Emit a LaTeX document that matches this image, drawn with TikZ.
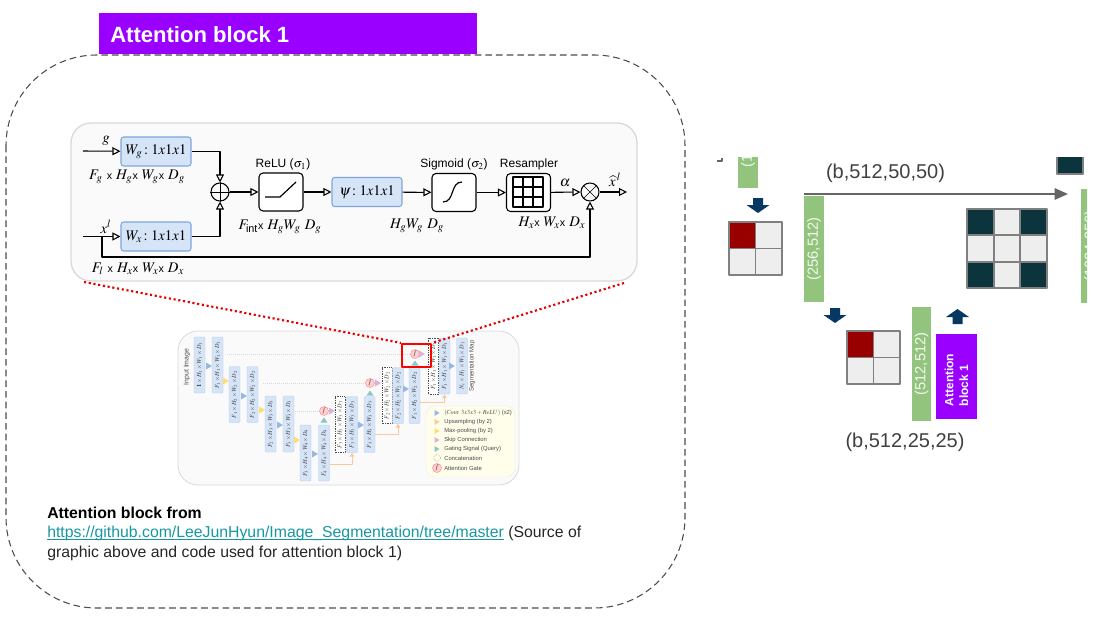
\documentclass[tikz,border=0pt]{standalone}
\usepackage{amsmath}
\usepackage{graphicx}
\usepackage{mathptmx}
\usepackage{fontspec}
\setmainfont{Liberation Sans}
\usetikzlibrary{arrows.meta}
\definecolor{attnpurple}{HTML}{9900FF}
\definecolor{blockblue}{HTML}{D6E4F7}
\definecolor{blockedge}{HTML}{7FA6DC}
\definecolor{convgreen}{HTML}{93C47D}
\definecolor{pooldark}{HTML}{0C343D}
\definecolor{poolred}{HTML}{980000}
\definecolor{cellgray}{HTML}{EEEEEE}
\definecolor{arrownavy}{HTML}{073763}
\definecolor{linkteal}{HTML}{1796A3}
\definecolor{upsorange}{HTML}{F9CB9C}
\def\px{0.75pt}
\newcommand{\fsz}[1]{\fontsize{#1}{#1}\selectfont}
\newcommand{\tinym}[1]{\scalebox{.47}{\fsz{10}$#1$}}
\newcommand{\tx}{{\fsz{8}x}}
\tikzset{
	wbox/.style={draw=blockedge,fill=blockblue,rounded corners=2pt,line width=.8pt,inner sep=0pt,minimum height=29*\px,minimum width=70*\px,font=\fsz{11}},
	actbox/.style={draw=black,fill=white,rounded corners=3pt,line width=.8pt,inner sep=0pt,minimum height=38*\px,minimum width=44*\px},
	opnode/.style={draw=black,circle,line width=.8pt,minimum size=18*\px,inner sep=0pt},
	lab/.style={font=\fsz{9},inner sep=0pt},
	mathlab/.style={font=\fsz{11},inner sep=0pt},
	thumb/.style={draw=blockedge!60,fill=blockblue,rounded corners=.8pt,line width=.3pt,rotate=90,minimum width=56*\px,minimum height=11*\px,inner sep=0pt,font=\fsz{10},text=black!75},
	thumbdash/.style={draw=black!70,densely dotted,fill=white,rotate=90,minimum width=56*\px,minimum height=10*\px,inner sep=0pt,font=\fsz{10},line width=.3pt,text=black!75},
	gatenode/.style={draw=red!50,fill=red!18,circle,line width=.3pt,minimum size=9*\px,inner sep=0pt,font=\fsz{10}},
	legendlab/.style={font=\fsz{4.4},inner sep=0pt,anchor=west,text=black!70},
	greenbar/.style={fill=convgreen,draw=none,inner sep=0pt,text=white!90!convgreen,font=\fsz{11}},
	cell/.style={draw=black!50,line width=1.4pt},
	dimlab/.style={font=\fsz{15},text=black!75,inner sep=0pt},
	textline/.style={font=\fsz{11.85},anchor=base west,inner sep=0pt}
}
\begin{document}
\begin{tikzpicture}[x=\px,y=-\px,line join=round,>={Triangle[open,length=6pt,width=6pt]}]
\useasboundingbox (0,0) rectangle (1108,617);
% titel und rahmen
\draw[black!70,dash pattern=on 5pt off 3pt,line width=.8pt,rounded corners=68pt] (6,55) rectangle (685,608);
\node[fill=attnpurple,minimum width=378*\px,minimum height=41*\px,inner sep=0pt] (titlebar) at (288,33.5) {};
\node[anchor=west,text=white,font=\fsz{16.55}\bfseries,inner sep=0pt] (title) at (110,34.5) {Attention block 1};
% grosses panel
\node[draw=black!15,fill=black!2,line width=1pt,rounded corners=15pt,minimum width=566*\px,minimum height=158*\px,inner sep=0pt] (panel) at (354,202) {};
\node[wbox] (wg) at (156,151.5) {$W_g\!:1x1x1$};
\node[wbox] (wx) at (156,236.5) {$W_x\!:1x1x1$};
\node[wbox,minimum width=70*\px] (psi) at (367,192) {$\psi\!:1x1x1$};
\node[actbox] (relu) at (281,192) {};
\node[actbox] (sigm) at (454,192.5) {};
\node[actbox] (resam) at (528.5,192.5) {};
\node[opnode] (sum) at (220,192) {};
\node[opnode] (mult) at (590,192) {};
\coordinate (gin) at (83,151);
\coordinate (xin) at (83,236.5);
\coordinate (xsplit) at (102,236.5);
\coordinate (xout) at (627,192);
\draw (sum.north)--(sum.south) (sum.west)--(sum.east);
\draw (mult.north west)--(mult.south east) (mult.north east)--(mult.south west);
\draw[line width=.9pt] (265,197)--(280,197)--(296,182);
\draw[line width=.9pt] (443,202) .. controls (455,202) and (450,182) .. (462,182);
\draw[line width=1.3pt] (513,177) rectangle (543,207);
\foreach \t in {1,2} {
	\draw[line width=1.3pt] (513+10*\t,177)--(513+10*\t,207);
	\draw[line width=1.3pt] (513,177+10*\t)--(543,177+10*\t);
}
\draw[->,line width=.8pt] (gin)--(wg);
\draw[->,line width=.8pt] (xin)--(wx);
\draw[->,line width=.8pt] (wg.east)-|(sum.north);
\draw[->,line width=.8pt] (wx.east)-|(sum.south);
\draw[->,line width=.8pt] (sum)--(relu);
\draw[->,line width=.8pt] (relu)--(psi);
\draw[->,line width=.8pt] (psi)--(sigm);
\draw[->,line width=.8pt] (sigm)--(resam);
\draw[->,line width=.8pt] (resam)--(mult);
\draw[->,line width=.8pt] (mult)--(xout);
\draw[->,line width=.8pt] (xsplit)--(102,257)-|(mult.south);
\path
(106,141) node[mathlab] (glab) {$g$}
(106,227) node[mathlab] (xlab) {$x^l$}
(137,177) node[mathlab] (fglab) {$F_g$ \tx{} $H_g$\tx{} $W_g$\tx{} $D_g$}
(138,269) node[mathlab] (fllab) {$F_l$ \tx{} $H_x$\tx{} $W_x$\tx{} $D_x$}
(283,164) node[lab] (relulab) {ReLU ($\sigma_1$)}
(280,227) node[mathlab] (fintlab) {$F_{\text{int}}$\tx{} $H_gW_g\ D_g$}
(454,164) node[lab] (sigmlab) {Sigmoid ($\sigma_2$)}
(529,164) node[lab] (resamlab) {Resampler}
(417,226) node[mathlab] (hwdlab) {$H_gW_g\ D_g$}
(552,223) node[mathlab] (hxlab) {$H_x$\tx{} $W_x$\tx{} $D_x$}
(565,183) node[mathlab] (alphalab) {$\alpha$}
(615,180) node[mathlab] (xhatlab) {$\widehat{x}^{\,l}$};
% kleines u-net
\node[draw=black!15,fill=black!2,line width=.6pt,rounded corners=15pt,minimum width=341*\px,minimum height=154*\px,inner sep=0pt] (thumbpanel) at (348.5,408) {};
\draw[black!15,densely dotted,line width=.5pt] (227,354)--(410,354) (263,383)--(365,383) (295,411)--(319,411);
\foreach \n/\xc/\yc/\lab in {
	1/199.5/365/\mathbf{1},2/217.5/365/F_1,3/234.5/394.5/F_1,4/252.5/394.5/F_2,
	5/270.5/424/F_2,6/288.5/424/F_3,7/305.5/453/F_3,8/324/453/F_4} {
	\pgfmathtruncatemacro{\lev}{int((\n+1)/2)}
	\node[thumb] (b\n) at (\xc,\yc) {\tinym{\lab\times H_{\lev}\times W_{\lev}\times D_{\lev}}};
}
\node[thumbdash] (c3) at (340,424.5) {\tinym{F_3\times H_3\times W_3\times D_3}};
\node[thumb] (u3) at (352,424.5) {\tinym{F_3\times H_3\times W_3\times D_3}};
\node[thumb] (v3) at (369.5,424.5) {\tinym{F_3\times H_3\times W_3\times D_3}};
\node[thumbdash] (c2) at (387,395.5) {\tinym{F_2\times H_2\times W_2\times D_2}};
\node[thumb] (u2) at (398,395.5) {\tinym{F_2\times H_2\times W_2\times D_2}};
\node[thumb] (v2) at (414.5,395.5) {\tinym{F_1\times H_2\times W_2\times D_2}};
\node[thumbdash] (c1) at (433.5,366) {\tinym{F_1\times H_1\times W_1\times D_1}};
\node[thumb] (u1) at (444.5,366) {\tinym{F_1\times H_1\times W_1\times D_1}};
\node[thumb] (v1) at (462,366) {\tinym{N_c\times H_1\times W_1\times D_1}};
\node[rotate=90,font=\fsz{5.2},text=black!70,inner sep=0pt] (inlab) at (187,367) {Input Image};
\node[rotate=90,font=\fsz{4.6},text=black!70,inner sep=0pt] (seglab) at (472,366) {Segmentation Map};
\foreach \n/\xc/\yc in {3/324/411,2/370/383,1/415/354} {
	\node[gatenode] (g\n) at (\xc,\yc) {\tinym{\int}};
}
\foreach \xc/\yc in {209/366,244/396,280/425,315/454,361/425,406/389,452/366}
	\fill[blockedge!80,shift={(\xc,\yc)}] (-3,-3.5)--(3,0)--(-3,3.5)--cycle;
\foreach \xc/\yc in {226/381,262/410,297/440}
	\fill[yellow!60!orange!55,shift={(\xc,\yc)}] (-3,-3.5)--(3,0)--(-3,3.5)--cycle;
\foreach \xc/\yc in {332/411,378/383,422/354}
	\fill[violet!30,shift={(\xc,\yc)}] (-3,-3.5)--(3,0)--(-3,3.5)--cycle;
\foreach \xc/\yc in {324/420,370/393,415/363}
	\fill[teal!45,shift={(\xc,\yc)}] (-3.5,2.5)--(0,-2.5)--(3.5,2.5)--cycle;
\coordinate (upa) at (0,464);
\coordinate (upb) at (0,434);
\coordinate (upc) at (0,402);
\draw[-{Triangle[length=3pt,width=3.5pt]},upsorange,line width=.5pt] (b8.south|-upa)-|(u3.west);
\draw[-{Triangle[length=3pt,width=3.5pt]},upsorange,line width=.5pt] (v3.south|-upb)-|(u2.west);
\draw[-{Triangle[length=3pt,width=3.5pt]},upsorange,line width=.5pt] (v2.south|-upc)-|(u1.west);
% legende
\node[fill=yellow!8,draw=black!8,line width=.3pt,rounded corners=7pt,minimum width=89*\px,minimum height=71*\px,inner sep=0pt] (legend) at (470.5,441.5) {};
\fill[blockedge!80,shift={(437,413)}] (-2.5,-3)--(2.5,0)--(-2.5,3)--cycle;
\fill[upsorange,shift={(437,422)}] (-2.5,-3)--(2.5,0)--(-2.5,3)--cycle;
\fill[yellow!60!orange!55,shift={(437,431)}] (-2.5,-3)--(2.5,0)--(-2.5,3)--cycle;
\fill[violet!30,shift={(437,440)}] (-2.5,-3)--(2.5,0)--(-2.5,3)--cycle;
\fill[teal!45,shift={(437,449)}] (-2.5,-3)--(2.5,0)--(-2.5,3)--cycle;
\draw[black!70,densely dotted,line width=.3pt] (437,458) circle (3.5);
\node[gatenode] (leggate) at (437,468) {\tinym{\int}};
\path
(444,413) node[legendlab] (leg1) {\tinym{(Conv\ 3x3x3+ReLU)} (x2)}
(444,422) node[legendlab] (leg2) {Upsampling (by 2)}
(444,431) node[legendlab] (leg3) {Max-pooling (by 2)}
(444,440) node[legendlab] (leg4) {Skip Connection}
(444,449) node[legendlab] (leg5) {Gating Signal (Query)}
(444,458) node[legendlab] (leg6) {Concatenation}
(444,468) node[legendlab] (leg7) {Attention Gate};
% rote markierung
\node[draw=red,line width=1.6pt,minimum width=29*\px,minimum height=23*\px,inner sep=0pt] (redbox) at (416.5,355.5) {};
\coordinate (zoomL) at (84,282);
\coordinate (zoomR) at (624,283);
\draw[red!90!black,line width=1.6pt,dash pattern=on 1.6pt off 2pt] (zoomL)--(redbox.north west);
\draw[red!90!black,line width=1.6pt,dash pattern=on 1.6pt off 2pt] (zoomR)--(redbox.north east);
% quellenangabe
\node[textline,font=\fsz{11.85}\bfseries] (src1) at (47,518) {Attention block from};
\node[textline] (src2) at (47,537.5) {\textcolor{linkteal}{\underline{\smash{https://github.com/LeeJunHyun/Image\_Segmentation/tree/master}}}~\textcolor{black!85}{(Source of}};
\node[textline,text=black!85] (src3) at (47,557) {graphic above and code used for attention block 1)};
% rechte seite
\begin{scope}
\clip (700,158) rectangle (1087,617);
\draw[black!60,line width=1pt] (717,161)--(722,161)--(722,158);
\node[greenbar,minimum width=20*\px,minimum height=60*\px] (bartop) at (748,158) {};
\node[rotate=90,anchor=west,text=white!90!convgreen,font=\fsz{11},inner sep=0pt] (bartoplab) at (748,168) {(1};
\node[fill=pooldark,draw=black!50,line width=1pt,minimum width=26*\px,minimum height=40*\px,inner sep=0pt] (darktop) at (1070,154) {};
\draw[black!50,line width=1pt] (darktop.north east)--++(17,0);
\node[greenbar,rotate=90,minimum width=114*\px,minimum height=20*\px] (barright) at (1091,246) {(1024,256)};
\end{scope}
\node[greenbar,rotate=90,minimum width=106*\px,minimum height=20*\px] (barleft) at (814,249) {(256,512)};
\node[greenbar,rotate=90,minimum width=114*\px,minimum height=19*\px] (barmid) at (921.5,364) {(512,512)};
\node[fill=attnpurple,minimum width=41*\px,minimum height=85*\px,inner sep=0pt] (attnbar) at (956.5,376.5) {};
\node[rotate=90,align=left,text=white,font=\fsz{9}\bfseries,inner sep=0pt] (attnlab) at (956.5,380) {Attention\\[2pt]block 1};
\coordinate (skipA) at (804,194);
\coordinate (skipB) at (1068,194);
\draw[-{Triangle[length=10pt,width=8.5pt]},black!60,line width=1.5pt] (skipA)--(skipB);
\foreach \xc/\yc/\s in {758/198/1,835/308/1,957.5/324/-1}
	\fill[arrownavy,shift={(\xc,\yc)},yscale=\s] (-5,0)--(5,0)--(5,7)--(11.5,7)--(0,15)--(-11.5,7)--(-5,7)--cycle;
\foreach \xc/\yc in {729/222,847/331} {
	\foreach \i in {0,1} \foreach \j in {0,1}
		\draw[cell,fill=cellgray] (\xc+26.5*\i,\yc+26.5*\j) rectangle +(26.5,26.5);
	\draw[cell,fill=poolred] (\xc,\yc) rectangle +(26.5,26.5);
}
\foreach \i/\j/\cc in {0/0/pooldark,1/0/cellgray,2/0/pooldark,0/1/cellgray,1/1/cellgray,2/1/cellgray,0/2/pooldark,1/2/cellgray,2/2/pooldark}
	\draw[cell,fill=\cc] (967+26.7*\i,209+26.3*\j) rectangle +(26.7,26.3);
\node[dimlab] (dimtop) at (885.5,173) {(b,512,50,50)};
\node[dimlab] (dimbot) at (905,442) {(b,512,25,25)};
\end{tikzpicture}
\end{document}
